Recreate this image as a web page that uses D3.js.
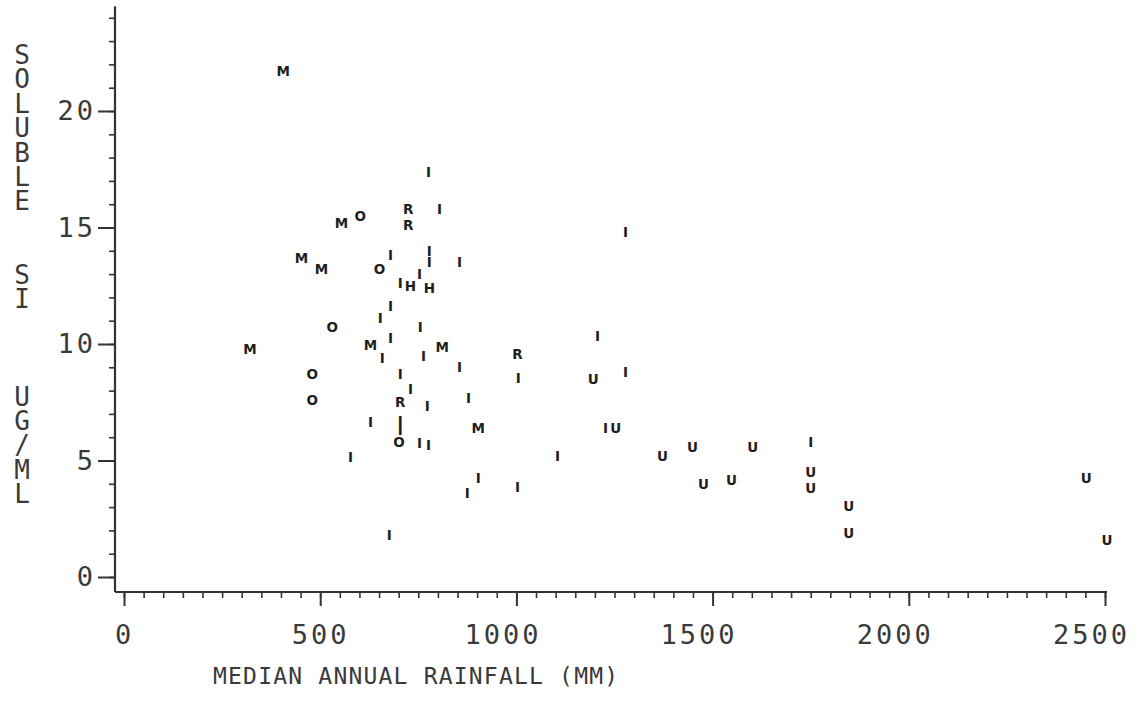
<!DOCTYPE html>
<html>
<head>
<meta charset="utf-8">
<script src="https://cdn.jsdelivr.net/npm/d3@7"></script>
<style>
  html, body { margin: 0; padding: 0; background: #fff; }
  svg { display: block; }
  .tick-label { font-family: "DejaVu Sans Mono", monospace; fill: #3a3a3a; }
</style>
</head>
<body>
<svg id="chart" width="1145" height="711"></svg>
<script>
// Site codes: M, O, I, R, H, U
const siteCodes = [
  "M","I","M","O","R","R","I","I","M","M","O","I","I","I","I","I","I","H","H",
  "I","O","I","I","M","M","I","I","I","M","R","I","I","O","I","I","O","R","I",
  "I","I","I","M","O","I","I","I","I","I","I","I","I","I","I","U","I","I","U",
  "U","U","U","U","U","I","U","U","U","U","U","U"
];
// Median annual rainfall (mm)
const rainfallMM = [
  406, 776, 554, 602, 724, 724, 804, 1278, 452, 503, 651, 679, 778, 778, 753, 855, 704, 730, 778,
  679, 531, 653, 755, 321, 628, 679, 658, 763, 811, 1003, 855, 1005, 480, 704, 730, 480, 704, 773,
  878, 628, 704, 903, 701, 704, 753, 776, 577, 676, 903, 875, 1003, 1105, 1207, 1196, 1278, 1227, 1253,
  1372, 1449, 1602, 1477, 1548, 1750, 1750, 1750, 1847, 1847, 2452, 2505
];
// Soluble Si (ug/ml)
const solubleSi = [
  21.7, 17.4, 15.2, 15.5, 15.8, 15.1, 15.8, 14.8, 13.7, 13.2, 13.2, 13.8, 14.0, 13.5, 13.0, 13.5, 12.6, 12.5, 12.4,
  11.65, 10.75, 11.1, 10.75, 9.8, 9.95, 10.25, 9.4, 9.5, 9.85, 9.55, 9.0, 8.55, 8.7, 8.7, 8.05, 7.6, 7.5, 7.35,
  7.7, 6.65, 6.7, 6.4, 5.8, 6.3, 5.75, 5.65, 5.15, 1.8, 4.25, 3.6, 3.85, 5.2, 10.35, 8.5, 8.8, 6.4, 6.4,
  5.2, 5.6, 5.6, 4.0, 4.15, 5.8, 4.5, 3.8, 3.05, 1.9, 4.25, 1.6
];

const xMajorTicks = [0, 500, 1000, 1500, 2000, 2500];
const xMinorTicks = d3.range(0, 2501, 50);
const yMajorTicks = [0, 5, 10, 15, 20];
const yMinorTicks = d3.range(0, 25, 1);
const xTitle = "MEDIAN ANNUAL RAINFALL (MM)";
// Vertical title, one character per row (blank rows are gaps)
const yTitleRows = ["S","O","L","U","B","L","E","","","S","I","","","","U","G","/","M","L"];

const svg = d3.select("#chart");
const ink = "#333";

const x = d3.scaleLinear().domain([0, 2500]).range([124, 1105]);
const y = d3.scaleLinear().domain([0, 20]).range([577, 111]);

const xAxisY = 592;
const yAxisX = 115;

// X axis: minor ticks, then major ticks with labels
const gxMinor = svg.append("g").attr("transform", `translate(0,${xAxisY})`)
  .call(d3.axisBottom(x).tickValues(xMinorTicks).tickSize(6).tickSizeOuter(0).tickFormat(""));
gxMinor.select(".domain").remove();
gxMinor.selectAll("line").attr("stroke", ink).attr("stroke-width", 1.6);

const gxMajor = svg.append("g").attr("transform", `translate(0,${xAxisY})`)
  .call(d3.axisBottom(x).tickValues(xMajorTicks).tickSize(14).tickSizeOuter(0).tickPadding(33)
    .tickFormat(d3.format("d")));
gxMajor.select(".domain").remove();
gxMajor.selectAll("line").attr("stroke", ink).attr("stroke-width", 2);
gxMajor.selectAll("text")
  .attr("class", "tick-label")
  .attr("font-size", 27)
  .attr("letter-spacing", 3)
  .attr("dx", d => String(d).length > 3 ? -14 : 0)
  .attr("dy", "0.2em");

svg.append("line")
  .attr("x1", yAxisX).attr("x2", x(2500) + 2)
  .attr("y1", xAxisY).attr("y2", xAxisY)
  .attr("stroke", ink).attr("stroke-width", 2.2);

// Y axis: minor ticks, then major ticks with labels
const gyMinor = svg.append("g").attr("transform", `translate(${yAxisX},0)`)
  .call(d3.axisLeft(y).tickValues(yMinorTicks).tickSize(6).tickSizeOuter(0).tickFormat(""));
gyMinor.select(".domain").remove();
gyMinor.selectAll("line").attr("stroke", ink).attr("stroke-width", 1.6);

const gyMajor = svg.append("g").attr("transform", `translate(${yAxisX},0)`)
  .call(d3.axisLeft(y).tickValues(yMajorTicks).tickSize(17).tickSizeOuter(0).tickPadding(2)
    .tickFormat(d3.format("d")));
gyMajor.select(".domain").remove();
gyMajor.selectAll("line").attr("stroke", ink).attr("stroke-width", 2);
gyMajor.selectAll("text")
  .attr("class", "tick-label")
  .attr("font-size", 27)
  .attr("letter-spacing", 3);

svg.append("line")
  .attr("x1", yAxisX).attr("x2", yAxisX)
  .attr("y1", y(24.5)).attr("y2", xAxisY)
  .attr("stroke", ink).attr("stroke-width", 2.2);

// Axis titles
svg.append("text")
  .attr("class", "tick-label")
  .attr("x", 213).attr("y", 684)
  .attr("font-size", 23)
  .attr("letter-spacing", 1.2)
  .text(xTitle);

const yTitle = svg.append("text")
  .attr("class", "tick-label")
  .attr("text-anchor", "middle")
  .attr("font-size", 26);
yTitleRows.forEach((ch, i) => {
  if (!ch) return;
  yTitle.append("tspan")
    .attr("x", 22)
    .attr("y", 55 + i * 24.4 + 9)
    .text(ch);
});

// Scatter of site codes
const points = siteCodes.map((c, i) => ({ code: c, mm: rainfallMM[i], si: solubleSi[i] }));
svg.append("g").selectAll("text")
  .data(points)
  .join("text")
  .attr("x", d => x(d.mm))
  .attr("y", d => y(d.si))
  .attr("text-anchor", "middle")
  .attr("dominant-baseline", "central")
  .attr("font-family", "DejaVu Sans, sans-serif")
  .attr("font-weight", "bold")
  .attr("font-size", 13.5)
  .attr("fill", "#1e1e1e")
  .text(d => d.code);
</script>
</body>
</html>
